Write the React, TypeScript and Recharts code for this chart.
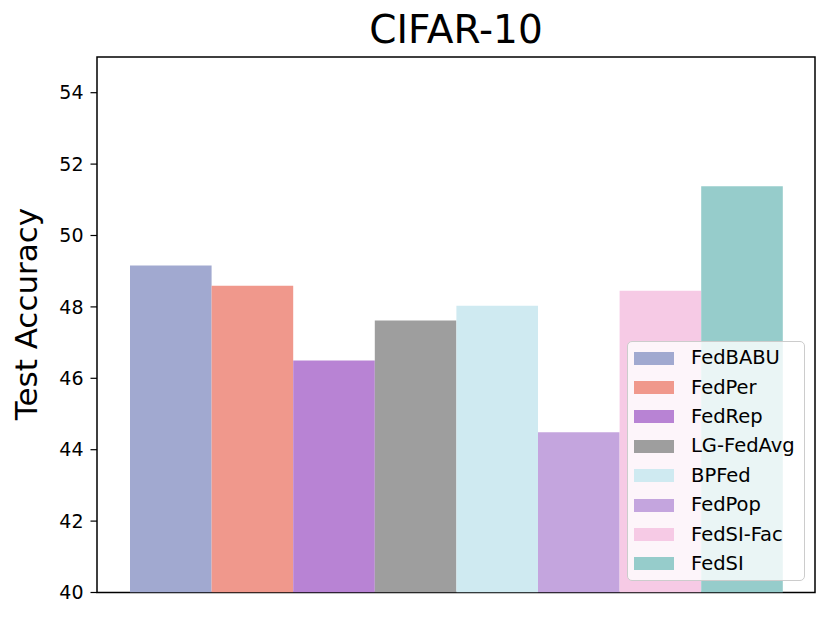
import React from 'react';
import { BarChart, Bar, XAxis, YAxis, Legend, ReferenceArea } from 'recharts';

const categories = ['CIFAR-10'];
const methods = ['FedBABU', 'FedPer', 'FedRep', 'LG-FedAvg', 'BPFed', 'FedPop', 'FedSI-Fac', 'FedSI'];
const accuracies = [49.16, 48.59, 46.5, 47.62, 48.03, 44.49, 48.45, 51.38];
const colors = ['#a1a9d0', '#f0988c', '#b883d4', '#9e9e9e', '#cfeaf1', '#c4a5de', '#f6cae5', '#96cccb'];
const yTicks = [40, 42, 44, 46, 48, 50, 52, 54];

const data = categories.map((c) => {
  const row: Record<string, any> = { name: c };
  methods.forEach((m, i) => {
    row[m] = accuracies[i];
  });
  return row;
});

const FONT = '"DejaVu Sans", sans-serif';

const LegendContent = () => {
  return (
    <div
      style={{
        boxSizing: 'border-box',
        width: 178,
        height: 240,
        background: 'rgba(255,255,255,0.8)',
        border: '1.5px solid #cccccc',
        borderRadius: 5,
        paddingTop: 1.5,
        fontFamily: FONT,
        fontSize: 19.5,
        color: '#000',
      }}
    >
      {methods.map((m, i) => (
        <div key={m} style={{ height: 29.4, display: 'flex', alignItems: 'center' }}>
          <div style={{ width: 40, height: 13, background: colors[i], marginLeft: 6, marginRight: 17 }} />
          <span style={{ lineHeight: '20px', whiteSpace: 'nowrap' }}>{m}</span>
        </div>
      ))}
    </div>
  );
};

export default function App() {
  return (
    <div style={{ position: 'absolute', left: 0, top: 0, width: 830, height: 619, background: '#fff' }}>
      <div
        style={{
          position: 'absolute',
          left: 256,
          width: 400,
          top: 6,
          textAlign: 'center',
          fontFamily: FONT,
          fontSize: 39,
          lineHeight: '48px',
          color: '#000',
        }}
      >
        CIFAR-10
      </div>
      <div
        style={{
          position: 'absolute',
          left: 26,
          top: 314,
          transform: 'translate(-50%, -50%) rotate(-90deg)',
          fontFamily: FONT,
          fontSize: 31,
          whiteSpace: 'nowrap',
          color: '#000',
        }}
      >
        Test Accuracy
      </div>
      <BarChart
        width={830}
        height={619}
        data={data}
        margin={{ top: 57, right: 15, bottom: 0, left: 0 }}
        barSize={81.6}
        barGap={0}
      >
        <XAxis dataKey="name" tick={false} tickLine={false} axisLine={false} height={26.5} />
        <YAxis
          domain={[40, 55]}
          ticks={yTicks}
          type="number"
          allowDataOverflow
          width={97}
          axisLine={false}
          tickLine={{ stroke: '#000', strokeWidth: 1.2 }}
          tickSize={6.5}
          tickMargin={7}
          tick={{ fill: '#000', fontSize: 19, fontFamily: FONT }}
        />
        {methods.map((m, i) => (
          <Bar key={m} dataKey={m} name={m} fill={colors[i]} isAnimationActive={false} />
        ))}
        <ReferenceArea y1={40} y2={55} fill="none" fillOpacity={0} stroke="#000" strokeWidth={1.5} ifOverflow="visible" />
        <Legend
          layout="vertical"
          align="center"
          verticalAlign="middle"
          content={<LegendContent />}
          wrapperStyle={{ position: 'absolute', left: 627, top: 341, width: 178, height: 240 }}
        />
      </BarChart>
    </div>
  );
}
